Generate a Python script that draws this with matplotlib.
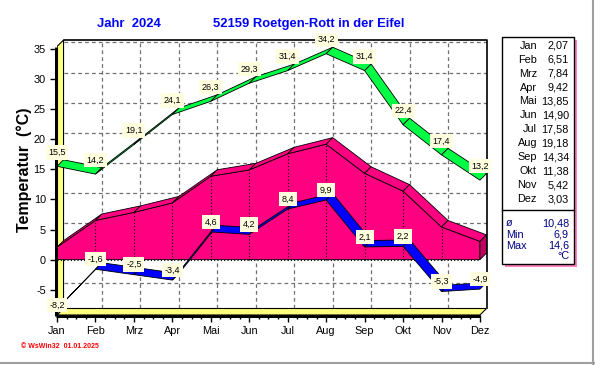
import numpy as np
import matplotlib
matplotlib.use('Agg')
import matplotlib.pyplot as plt
from matplotlib.patches import Polygon, Rectangle
from matplotlib.lines import Line2D

# monthly values, Roetgen-Rott 2024
months = ['Jan', 'Feb', 'Mrz', 'Apr', 'Mai', 'Jun', 'Jul', 'Aug', 'Sep', 'Okt', 'Nov', 'Dez']
t_max = [15.5, 14.2, 19.1, 24.1, 26.3, 29.3, 31.4, 34.2, 31.4, 22.4, 17.4, 13.2]
t_mean = [2.07, 6.51, 7.84, 9.42, 13.85, 14.90, 17.58, 19.18, 14.34, 11.38, 5.42, 3.03]
t_min = [-8.2, -1.6, -2.5, -3.4, 4.6, 4.2, 8.4, 9.9, 2.1, 2.2, -5.3, -4.9]
year_mean = 10.48
year_min = 6.9
year_max = 14.6
y_ticks = [-5, 0, 5, 10, 15, 20, 25, 30, 35]

plt.rcParams['font.family'] = ['Liberation Sans', 'DejaVu Sans']
plt.rcParams['axes.unicode_minus'] = False

W, H = 595, 365
fig = plt.figure(figsize=(W / 100, H / 100), dpi=100)
fig.patch.set_facecolor('white')


def fx(px):
    return px / W


def fy(py):
    return 1 - py / H


def de(v, nd=1):
    return f'{v:.{nd}f}'.replace('.', ',')


# 3d box: front plane is data coords, back plane shifted by (DX, DY)
DX, DY = 0.17, 1.08
YMIN, YTOP = -9.2, 35.4
ax = fig.add_axes([fx(57), fy(315), (486.5 - 57) / W, (315 - 40) / H])
ax.set_xlim(0, 11 + DX)
ax.set_ylim(YMIN, YTOP + DY)
ax.set_facecolor('white')
for s in ax.spines.values():
    s.set_visible(False)

grid_kw = dict(color='#707070', lw=0.9, ls=(0, (3, 2.5)), zorder=1)
for v in y_ticks:
    ax.plot([DX, 11 + DX], [v + DY] * 2, **grid_kw)
for i in range(1, 11):
    ax.plot([i + DX] * 2, [YMIN + DY, YTOP + DY], **grid_kw)

# back wall border
ax.plot([DX, 11 + DX, 11 + DX], [YTOP + DY, YTOP + DY, YMIN + DY], color='k', lw=1.2, zorder=2, clip_on=False)

# yellow side wall + floor
yel = '#ffff80'
ax.add_patch(Polygon([(0, YMIN), (0, YTOP), (DX, YTOP + DY), (DX, YMIN + DY)],
                     fc=yel, ec='k', lw=0.8, zorder=2))
ax.add_patch(Polygon([(0, YMIN), (11, YMIN), (11 + DX, YMIN + DY), (DX, YMIN + DY)],
                     fc=yel, ec='k', lw=0.8, zorder=2))

x = np.arange(12)

# mean: 3d area
mag = '#ff0080'
ax.add_patch(Polygon([(0, 0)] + list(zip(x, t_mean)) + [(11, 0)],
                     fc=mag, ec='k', lw=0.6, zorder=3))
for i in range(11):
    ax.add_patch(Polygon([(i, t_mean[i]), (i + 1, t_mean[i + 1]),
                          (i + 1 + DX, t_mean[i + 1] + DY), (i + DX, t_mean[i] + DY)],
                         fc=mag, ec='k', lw=0.6, zorder=3))
ax.add_patch(Polygon([(11, t_mean[11]), (11 + DX, t_mean[11] + DY), (11 + DX, DY), (11, 0)],
                     fc='#c00060', ec='k', lw=0.6, zorder=3))
for i in range(1, 11):
    ax.plot([i, i], [0, t_mean[i]], color='k', lw=0.8, ls=(0, (1, 2)), zorder=3.5)
ax.plot([0, 11], [0, 0], color='k', lw=0.8, ls=(0, (1, 2)), zorder=3.5)


def ribbon(vals, color, z):
    for i in range(11):
        ax.add_patch(Polygon([(i, vals[i]), (i + 1, vals[i + 1]),
                              (i + 1 + DX, vals[i + 1] + DY), (i + DX, vals[i] + DY)],
                             fc=color, ec='k', lw=0.6, zorder=z))


ribbon(t_min, '#0000ff', 4)
ribbon(t_max, '#00ff44', 5)

lab_box = dict(boxstyle='square,pad=0.3', fc='#ffffe0', ec='none')
for i, v in enumerate(t_max):
    ax.annotate(de(v), (i, v), xytext=(0, 14), textcoords='offset pixels',
                ha='center', va='center', fontsize=6.5, bbox=lab_box, zorder=10,
                annotation_clip=False)
for i, v in enumerate(t_min):
    off = 4 if i == 0 else 10
    ax.annotate(de(v), (i, v), xytext=(0, off), textcoords='offset pixels',
                ha='center', va='center', fontsize=6.5, bbox=lab_box, zorder=10,
                annotation_clip=False)

# front edges (thick, just outside the box)
ex = 1.2 / 38.45
ey = 1.2 / 6.02
ax.plot([-ex, -ex], [YMIN - ey, YTOP], color='k', lw=2.2, zorder=6, clip_on=False, solid_capstyle='butt')
ax.plot([-ex, 11], [YMIN - ey, YMIN - ey], color='k', lw=2.2, zorder=6, clip_on=False, solid_capstyle='butt')

ax.set_xticks(x, months)
ax.set_xticks(np.arange(0, 11.01, 0.25), minor=True)
ax.set_yticks(y_ticks)
ax.tick_params(axis='both', which='major', direction='out', length=5, width=1,
               labelsize=7.8, pad=3, top=False, right=False)
ax.tick_params(axis='x', which='minor', direction='out', length=3, width=1)

ax.set_ylabel('Temperatur  (°C)', fontsize=11.5, fontweight='bold')
ax.yaxis.set_label_coords(-0.058, 0.53)

# titles
title_kw = dict(color='#0000ff', fontsize=9.4, fontweight='bold', va='center', ha='left')
fig.text(fx(97), fy(24), 'Jahr  2024', **title_kw)
fig.text(fx(213), fy(24), '52159 Roetgen-Rott in der Eifel', **title_kw)

fig.text(fx(21), fy(346), '© WsWin32  01.01.2025', color='#ff0000', fontsize=5,
         fontweight='bold', va='center', ha='left')

# side table
fig.add_artist(Rectangle((fx(505), fy(267)), (574 - 502) / W, (264 - 37) / H,
                         transform=fig.transFigure, fc='#ff80c0', ec='none'))
fig.add_artist(Rectangle((fx(502), fy(264)), (574 - 502) / W, (264 - 37) / H,
                         transform=fig.transFigure, fc='white', ec='k', lw=1))
fig.add_artist(Line2D([fx(502), fx(574)], [fy(209.5)] * 2, color='k', lw=1))
for i, (m, v) in enumerate(zip(months, t_mean)):
    yy = fy(45.7 + i * 13.94)
    fig.text(fx(537), yy, m, fontsize=7.8, ha='right', va='center')
    fig.text(fx(569), yy, de(v, 2), fontsize=7.8, ha='right', va='center')
navy = '#000080'
rows = [('ø', de(year_mean, 2), 223), ('Min', de(year_min), 234.5), ('Max', de(year_max), 246)]
for lab, val, yy in rows:
    fig.text(fx(506), fy(yy), lab, fontsize=7.8, ha='left', va='center', color=navy)
    fig.text(fx(569), fy(yy), val, fontsize=7.8, ha='right', va='center', color=navy)
fig.text(fx(569), fy(256), '°C', fontsize=7.8, ha='right', va='center', color=navy)

# window frame lines
fig.add_artist(Line2D([0, 1], [fy(362.5)] * 2, color='#a0a0a0', lw=1.5))
fig.add_artist(Line2D([fx(593)] * 2, [0, 1], color='#a0a0a0', lw=1.5))

fig.savefig('out.png', dpi=100, facecolor='white')
